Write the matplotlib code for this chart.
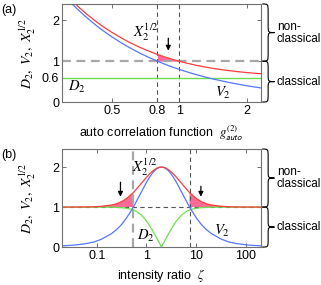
import matplotlib
matplotlib.use('Agg')
import matplotlib.pyplot as plt
from matplotlib.path import Path
from matplotlib.patches import PathPatch
from matplotlib.transforms import blended_transform_factory

plt.rcParams['font.family'] = ['Liberation Sans', 'DejaVu Sans']
plt.rcParams['mathtext.fontset'] = 'stix'

# ---- panel (a): versus auto correlation function
g_auto = [0.30, 0.32, 0.34, 0.36, 0.38, 0.40, 0.43, 0.46, 0.50, 0.55, 0.60, 0.66,
          0.72, 0.80, 0.85, 0.90, 0.95, 1.00, 1.08, 1.18, 1.30, 1.45, 1.62, 1.82,
          2.05, 2.32]
X_a = [2.733, 2.571, 2.428, 2.302, 2.189, 2.088, 1.954, 1.840, 1.709, 1.574, 1.462,
       1.352, 1.263, 1.166, 1.116, 1.072, 1.034, 1.000, 0.953, 0.905, 0.859, 0.815,
       0.777, 0.744, 0.716, 0.692]
V_a = [2.667, 2.500, 2.353, 2.222, 2.105, 2.000, 1.860, 1.739, 1.600, 1.455, 1.333,
       1.212, 1.111, 1.000, 0.941, 0.889, 0.842, 0.800, 0.741, 0.678, 0.615, 0.552,
       0.494, 0.440, 0.390, 0.345]
g_D = [0.30, 2.32]
D_a = [0.6, 0.6]
xticks_a = [0.5, 0.8, 1, 2]
xticklabels_a = ['0.5', '0.8', '1', '2']
yticks_a = [0, 0.6, 1, 2]
yticklabels_a = ['0', '0.6', '1', '2']

# ---- panel (b): versus intensity ratio
zeta = [0.02, 0.0356, 0.0632, 0.0893, 0.126, 0.2, 0.252, 0.317, 0.399, 0.502, 0.545,
        0.632, 0.796, 1.002, 1.125, 1.262, 1.416, 1.589, 1.783, 2.0, 2.244, 2.518,
        2.825, 3.17, 3.557, 3.991, 5.024, 6.325, 7.34, 7.962, 10.02, 12.62, 15.89,
        20.0, 31.7, 44.8, 63.2, 112.5, 200]
V_b = [0.03, 0.05, 0.09, 0.13, 0.2, 0.34, 0.44, 0.566, 0.731, 0.927, 1.0, 1.15, 1.386,
       1.62, 1.725, 1.818, 1.895, 1.952, 1.988, 2.0,
       1.988, 1.952, 1.895, 1.818, 1.725, 1.62, 1.386, 1.15, 1.0, 0.927, 0.731, 0.566,
       0.44, 0.34, 0.2, 0.13, 0.09, 0.05, 0.03]
D_b = [1.0, 1.0, 1.0, 1.0, 1.0, 0.996, 0.992, 0.985, 0.97, 0.945, 0.925, 0.89, 0.8,
       0.65, 0.56, 0.46, 0.35, 0.24, 0.12, 0.0,
       0.12, 0.24, 0.35, 0.46, 0.56, 0.65, 0.8, 0.89, 0.925, 0.945, 0.97, 0.985,
       0.992, 0.996, 1.0, 1.0, 1.0, 1.0, 1.0]
X_b = [1.0, 1.001, 1.004, 1.008, 1.02, 1.052, 1.085, 1.136, 1.215, 1.324, 1.362, 1.454,
       1.6, 1.746, 1.814, 1.875, 1.927, 1.967, 1.992, 2.0,
       1.992, 1.967, 1.927, 1.875, 1.814, 1.746, 1.6, 1.454, 1.362, 1.324, 1.215,
       1.136, 1.085, 1.052, 1.02, 1.008, 1.004, 1.001, 1.0]
zeta_cross = [0.545, 7.34]
xticks_b = [0.1, 1, 10, 100]
xticklabels_b = ['0.1', '1', '10', '100']
yticks_b = [0, 1, 2]

RED = '#ff3d3d'
BLUE = '#5576ff'
GREEN = '#6ee04e'
PINK = '#ff5a8c'
THICK_GRAY = dict(color='#a8a8a8', lw=1.6, dashes=(4, 2.5))
THIN_DARK = dict(color='#555555', lw=0.8, dashes=(4, 3))


def brace(ax, y0, y1, r=0.2, rt=0.16):
    tr = blended_transform_factory(ax.transAxes, ax.transData)
    x0, xm, xt = 1.006, 1.036, 1.068
    ym = (y0 + y1) / 2
    verts = [(x0, y0), (xm, y0), (xm, y0), (xm, y0 + r), (xm, ym - rt),
             (xm, ym), (xm, ym), (xt, ym), (xm, ym), (xm, ym), (xm, ym + rt),
             (xm, y1 - r), (xm, y1), (xm, y1), (x0, y1)]
    codes = [Path.MOVETO] + [Path.CURVE4] * 3 + [Path.LINETO] + [Path.CURVE4] * 6 \
        + [Path.LINETO] + [Path.CURVE4] * 3
    ax.add_patch(PathPatch(Path(verts, codes), transform=tr, fc='none', ec='k',
                           lw=0.8, clip_on=False))


def style(ax):
    for s in ax.spines.values():
        s.set_color('#707070')
        s.set_linewidth(0.8)
    ax.tick_params(direction='in', length=3, width=0.7, color='#707070',
                   labelsize=9, pad=2, top=True, right=True)
    ax.minorticks_off()
    ax.set_ylabel(r'$D_2,\ V_2,\ X_2^{1/2}$', fontsize=10)
    ax.yaxis.set_label_coords(-0.12, 0.5)


fig = plt.figure(figsize=(3.21, 2.85), dpi=100)
axa = fig.add_axes([0.193, 0.642, 0.620, 0.344])
axb = fig.add_axes([0.193, 0.133, 0.620, 0.344])

# panel (a)
axa.set_xscale('log')
axa.set_xlim(0.3, 2.32)
axa.set_ylim(0, 2.4)
axa.fill_between(g_auto, X_a, 1, where=[0.8 <= g <= 1.0 for g in g_auto],
                 color=PINK, lw=0, alpha=0.9)
axa.axhline(1, **THICK_GRAY)
axa.axvline(0.8, **THIN_DARK)
axa.axvline(1.0, **THIN_DARK)
axa.plot(g_D, D_a, color=GREEN, lw=1.0)
axa.plot(g_auto, V_a, color=BLUE, lw=0.9)
axa.plot(g_auto, X_a, color=RED, lw=0.9)
axa.annotate('', xy=(0.895, 1.19), xytext=(0.895, 1.63),
             arrowprops=dict(arrowstyle='-|>', color='k', lw=0.9, mutation_scale=7))
axa.text(0.62, 1.72, r'$X_2^{1/2}$', fontsize=10.5, va='center')
axa.text(0.32, 0.37, r'$D_2$', fontsize=10.5, va='center')
axa.text(1.45, 0.22, r'$V_2$', fontsize=10.5, va='center')
axa.set_xticks(xticks_a)
axa.set_xticklabels(xticklabels_a)
axa.set_yticks(yticks_a)
axa.set_yticklabels(yticklabels_a)
style(axa)
axa.set_xlabel(r'auto correlation function  $g^{(2)}_{\mathsf{auto}}$', fontsize=9)
axa.xaxis.set_label_coords(0.5, -0.22)
brace(axa, 1, 2.4)
brace(axa, 0, 1)
tra = blended_transform_factory(axa.transAxes, axa.transData)
axa.text(1.08, 1.7, 'non-\nclassical', transform=tra,
         fontsize=8.5, va='center', ha='left', linespacing=1.0)
axa.text(1.08, 0.5, 'classical', transform=tra,
         fontsize=8.5, va='center', ha='left')

# panel (b)
axb.set_xscale('log')
axb.set_xlim(0.02, 200)
axb.set_ylim(0, 2.45)
axb.fill_between(zeta, X_b, 1, where=[z <= zeta_cross[0] or z >= zeta_cross[1] for z in zeta],
                 color=PINK, lw=0, alpha=0.9)
axb.axhline(1, **THIN_DARK)
axb.axvline(zeta_cross[0], **THICK_GRAY)
axb.axvline(zeta_cross[1], **THIN_DARK)
axb.plot(zeta, D_b, color=GREEN, lw=0.9)
axb.plot(zeta, V_b, color=BLUE, lw=0.9)
axb.plot(zeta, X_b, color=RED, lw=0.9)
axb.annotate('', xy=(0.30, 1.19), xytext=(0.30, 1.69),
             arrowprops=dict(arrowstyle='-|>', color='k', lw=0.9, mutation_scale=7))
axb.annotate('', xy=(12.4, 1.19), xytext=(12.4, 1.59),
             arrowprops=dict(arrowstyle='-|>', color='k', lw=0.9, mutation_scale=7))
axb.text(0.51, 2.0, r'$X_2^{1/2}$', fontsize=10.5, va='center')
axb.text(0.63, 0.27, r'$D_2$', fontsize=10.5, va='center')
axb.text(23, 0.4, r'$V_2$', fontsize=10.5, va='center')
axb.set_xticks(xticks_b)
axb.set_xticklabels(xticklabels_b)
axb.set_yticks(yticks_b)
style(axb)
axb.set_xlabel(r'intensity ratio  $\zeta$', fontsize=9)
axb.xaxis.set_label_coords(0.5, -0.2)
brace(axb, 1, 2.45)
brace(axb, 0, 1)
trb = blended_transform_factory(axb.transAxes, axb.transData)
axb.text(1.08, 1.72, 'non-\nclassical', transform=trb,
         fontsize=8.5, va='center', ha='left', linespacing=1.0)
axb.text(1.08, 0.5, 'classical', transform=trb,
         fontsize=8.5, va='center', ha='left')

fig.text(0.005, 1 - 10 / 285, '(a)', fontsize=9, va='center')
fig.text(0.005, 1 - 155 / 285, '(b)', fontsize=9, va='center')

fig.savefig('out.png', dpi=100)
